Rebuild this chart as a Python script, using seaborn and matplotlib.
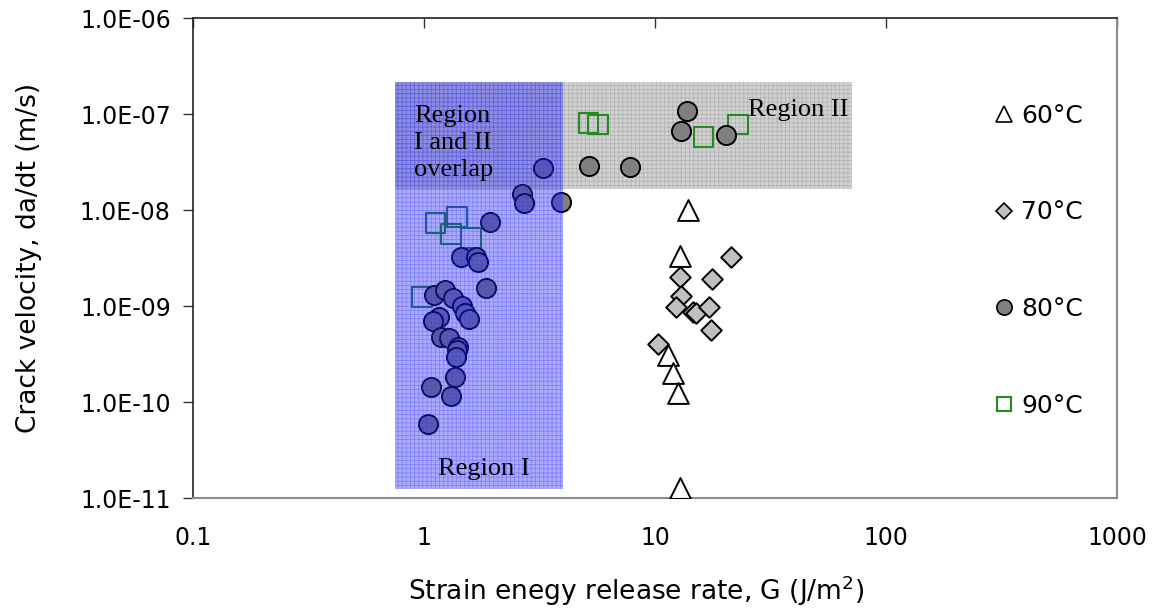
import numpy as np
import pandas as pd
import matplotlib
matplotlib.use("Agg")
import matplotlib.pyplot as plt
import seaborn as sns
from matplotlib.lines import Line2D
from matplotlib.ticker import FixedLocator, FixedFormatter, NullLocator

# ---------------- data ----------------
labels = ["60°C", "70°C", "80°C", "90°C"]

g60 = [13.9, 12.8, 11.4, 12.0, 12.6, 12.8]
v60 = [9.9e-9, 3.34e-9, 3.09e-10, 1.99e-10, 1.23e-10, 1.26e-11]

g70 = [21.3, 12.8, 17.7, 12.9, 12.3, 14.6, 15.1, 17.2, 17.4, 10.3]
v70 = [3.24e-9, 1.99e-9, 1.90e-9, 1.27e-9, 9.8e-10, 8.7e-10, 8.5e-10, 9.7e-10, 5.6e-10, 4.0e-10]

g80 = [3.26, 2.65, 2.72, 3.92, 1.93, 1.44, 1.68, 1.72, 1.85, 1.10, 1.23, 1.34, 1.46,
       1.51, 1.57, 1.16, 1.09, 1.18, 1.28, 1.41, 1.39, 1.38, 1.36, 1.07, 1.31, 1.04,
       13.8, 13.0, 20.2, 5.2, 7.83]
v80 = [2.72e-8, 1.46e-8, 1.17e-8, 1.22e-8, 7.55e-9, 3.27e-9, 3.21e-9, 2.85e-9, 1.53e-9,
       1.30e-9, 1.47e-9, 1.20e-9, 1.0e-9, 8.5e-10, 7.26e-10, 7.6e-10, 7.03e-10, 4.79e-10,
       4.61e-10, 3.77e-10, 3.48e-10, 2.92e-10, 1.81e-10, 1.42e-10, 1.15e-10, 5.9e-11,
       1.08e-7, 6.7e-8, 6.04e-8, 2.9e-8, 2.79e-8]

g90 = [5.16, 5.65, 16.2, 22.9, 1.12, 1.39, 1.31, 1.60, 0.98]
v90 = [8.1e-8, 7.8e-8, 5.8e-8, 7.8e-8, 7.27e-9, 8.5e-9, 5.6e-9, 5.14e-9, 1.25e-9]

x_ticks = [0.1, 1, 10, 100, 1000]
x_ticklabels = ["0.1", "1", "10", "100", "1000"]
y_ticks = [1e-11, 1e-10, 1e-9, 1e-8, 1e-7, 1e-6]
y_ticklabels = ["1.0E-11", "1.0E-10", "1.0E-09", "1.0E-08", "1.0E-07", "1.0E-06"]

region1_g = [0.748, 4.01]
region1_v = [1.24e-11, 2.15e-7]
region2_g = [0.748, 71.0]
region2_v = [1.66e-8, 2.15e-7]

# ---------------- style ----------------
sns.set_style("white")
plt.rcParams["font.family"] = ["DejaVu Sans"]
plt.rcParams["hatch.linewidth"] = 0.6
for key in ["text.color", "axes.labelcolor", "xtick.labelcolor", "ytick.labelcolor"]:
    plt.rcParams[key] = "black"

GREEN = "#228b22"

fig = plt.figure(figsize=(11.59, 6.11), dpi=100)
ax = fig.add_axes([193 / 1159, 1 - 498 / 611, 924 / 1159, 480 / 611])
ax.set_xscale("log")
ax.set_yscale("log")
ax.set_xlim(0.1, 1000)
ax.set_ylim(1e-11, 1e-6)

# grey region (under the markers)
ax.fill_between(region2_g, region2_v[0], region2_v[1], facecolor="#d2d2d2",
                edgecolor="#b4b4b4", hatch="++++", lw=0, zorder=1)

df90 = pd.DataFrame({"G": g90, "v": v90})
df70 = pd.DataFrame({"G": g70, "v": v70})
df60 = pd.DataFrame({"G": g60, "v": v60})
df80 = pd.DataFrame({"G": g80, "v": v80})

sns.scatterplot(data=df90, x="G", y="v", ax=ax, marker="s", s=200,
                facecolor="none", edgecolor=GREEN, linewidth=1.5, zorder=3)
sns.scatterplot(data=df70, x="G", y="v", ax=ax, marker="D", s=110,
                color="#c0c0c0", edgecolor="black", linewidth=1.4, zorder=3)
sns.scatterplot(data=df60, x="G", y="v", ax=ax, marker="^", s=225,
                color="white", edgecolor="black", linewidth=1.4, zorder=3)
sns.scatterplot(data=df80, x="G", y="v", ax=ax, marker="o", s=190,
                color="#808080", edgecolor="black", linewidth=1.4, zorder=4)

# blue region drawn on top (translucent)
ax.fill_between(region1_g, region1_v[0], region1_v[1], facecolor=(0.1, 0.1, 1.0, 0.36),
                edgecolor=(0.2, 0.2, 1.0, 0.35), hatch="++++", lw=0, zorder=5)

# region annotations
serif = ["Liberation Serif", "DejaVu Serif"]
ax.text(0.905, 2.26e-8, "Region\nI and II\noverlap", family=serif, fontsize=19,
        va="baseline", ha="left", linespacing=1.3, zorder=6)
ax.text(1.82, 1.74e-11, "Region I", family=serif, fontsize=19, va="baseline",
        ha="center", zorder=6)
ax.text(69, 9.6e-8, "Region II", family=serif, fontsize=19, va="baseline",
        ha="right", zorder=6)

# axes / ticks
ax.xaxis.set_major_locator(FixedLocator(x_ticks))
ax.xaxis.set_major_formatter(FixedFormatter(x_ticklabels))
ax.xaxis.set_minor_locator(NullLocator())
ax.yaxis.set_major_locator(FixedLocator(y_ticks))
ax.yaxis.set_major_formatter(FixedFormatter(y_ticklabels))
ax.yaxis.set_minor_locator(NullLocator())

ax.tick_params(axis="x", which="major", direction="in", top=True, bottom=False,
               labeltop=False, labelbottom=True, length=7, width=1, pad=20,
               labelsize=17, color="#333333", labelcolor="black")
ax.tick_params(axis="y", which="major", direction="out", left=True, right=False,
               length=7, width=1, pad=9, labelsize=17, color="#333333",
               labelcolor="black")

for side in ["left", "top"]:
    ax.spines[side].set_color("#222222")
    ax.spines[side].set_linewidth(1.2)
for side in ["right", "bottom"]:
    ax.spines[side].set_color("#8c8c8c")
    ax.spines[side].set_linewidth(1.5)
    ax.spines[side].set_visible(True)

ax.set_xlabel("Strain enegy release rate, G (J/m$^2$)", fontsize=19, color="black")
ax.set_ylabel("Crack velocity, da/dt (m/s)", fontsize=19, color="black")
ax.xaxis.set_label_coords(0.48, -0.158)
ax.yaxis.set_label_coords(-0.163, 0.5)

# legend
handles = [
    Line2D([], [], ls="none", marker="^", markersize=12, markerfacecolor="white",
           markeredgecolor="black", markeredgewidth=1.2),
    Line2D([], [], ls="none", marker="D", markersize=8.5, markerfacecolor="#c0c0c0",
           markeredgecolor="black", markeredgewidth=1.2),
    Line2D([], [], ls="none", marker="o", markersize=11, markerfacecolor="#808080",
           markeredgecolor="black", markeredgewidth=1.2),
    Line2D([], [], ls="none", marker="s", markersize=10.5, markerfacecolor="none",
           markeredgecolor=GREEN, markeredgewidth=1.5),
]
leg = ax.legend(handles, labels, loc="upper left", bbox_to_anchor=(0.8655, 0.8215),
                frameon=False, fontsize=18, handlelength=0.9, handletextpad=0.25,
                labelspacing=2.91, borderpad=0, borderaxespad=0)
for t in leg.get_texts():
    t.set_color("black")

fig.savefig("out.png", dpi=100)
